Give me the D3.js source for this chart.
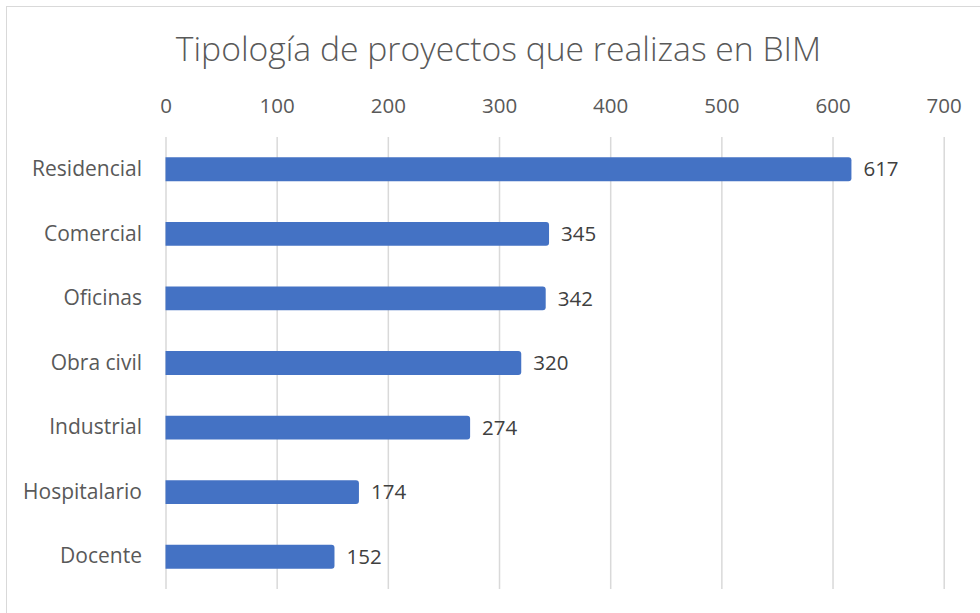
<!DOCTYPE html>
<html><head><meta charset="utf-8">
<script src="https://cdn.jsdelivr.net/npm/d3@7/dist/d3.min.js"></script>
<style>body{margin:0;background:#fff}svg{display:block}</style>
</head><body>
<svg id="c" width="980" height="613"></svg>
<script>
const categories = ["Residencial","Comercial","Oficinas","Obra civil","Industrial","Hospitalario","Docente"];
const values = [617,345,342,320,274,174,152];
const tickValues = [0,100,200,300,400,500,600,700];
const title = "Tipología de proyectos que realizas en BIM";

const svg = d3.select("#c");
const font = "'Open Sans', Lato, sans-serif";
svg.append("rect").attr("x",6.5).attr("y",6.5).attr("width",990).attr("height",620)
  .attr("fill","#fff").attr("stroke","#d9d9d9").attr("stroke-width",1);

svg.append("text").attr("x",498.5).attr("y",61).attr("text-anchor","middle")
  .attr("font-family",font).attr("font-weight",300).attr("font-size",33.7).attr("fill","#595959").text(title);

const x = d3.scaleLinear().domain([0,700]).range([165.5,943.7]);
const y = d3.scaleBand().domain(categories).range([137,589]).paddingInner(0.63).paddingOuter(0.315);

const gx = svg.append("g").attr("transform","translate(0,137)")
  .call(d3.axisTop(x).tickValues(tickValues).tickSize(-452).tickPadding(14).tickFormat(d3.format("d")));
gx.select(".domain").remove();
gx.selectAll(".tick line").attr("stroke","#d9d9d9").attr("stroke-width",1.5);
gx.selectAll(".tick text").attr("font-family",font).attr("font-size",20.5).attr("fill","#595959").attr("dy",0).attr("y",-24);

const gy = svg.append("g").attr("transform","translate(166,0)")
  .call(d3.axisLeft(y).tickSize(0).tickPadding(24));
gy.select(".domain").remove();
gy.selectAll(".tick text").attr("font-family",font).attr("font-size",21).attr("fill","#595959");

const data = categories.map((c,i)=>({c, v: values[i]}));
svg.selectAll(".bar").data(data).join("path").attr("class","bar")
  .attr("fill","#4472c4")
  .attr("d", d => {
    const x0 = x(0), x1 = x(d.v), y0 = y(d.c), h = y.bandwidth(), r = 3;
    return `M${x0},${y0}H${x1-r}Q${x1},${y0} ${x1},${y0+r}V${y0+h-r}Q${x1},${y0+h} ${x1-r},${y0+h}H${x0}Z`;
  });
svg.selectAll(".lbl").data(data).join("text").attr("class","lbl")
  .attr("x", d => x(d.v) + 12).attr("y", d => y(d.c) + y.bandwidth()/2).attr("dy","0.35em")
  .attr("font-family",font).attr("font-size",20.5).attr("fill","#404040").text(d => d.v);
</script>
</body></html>
